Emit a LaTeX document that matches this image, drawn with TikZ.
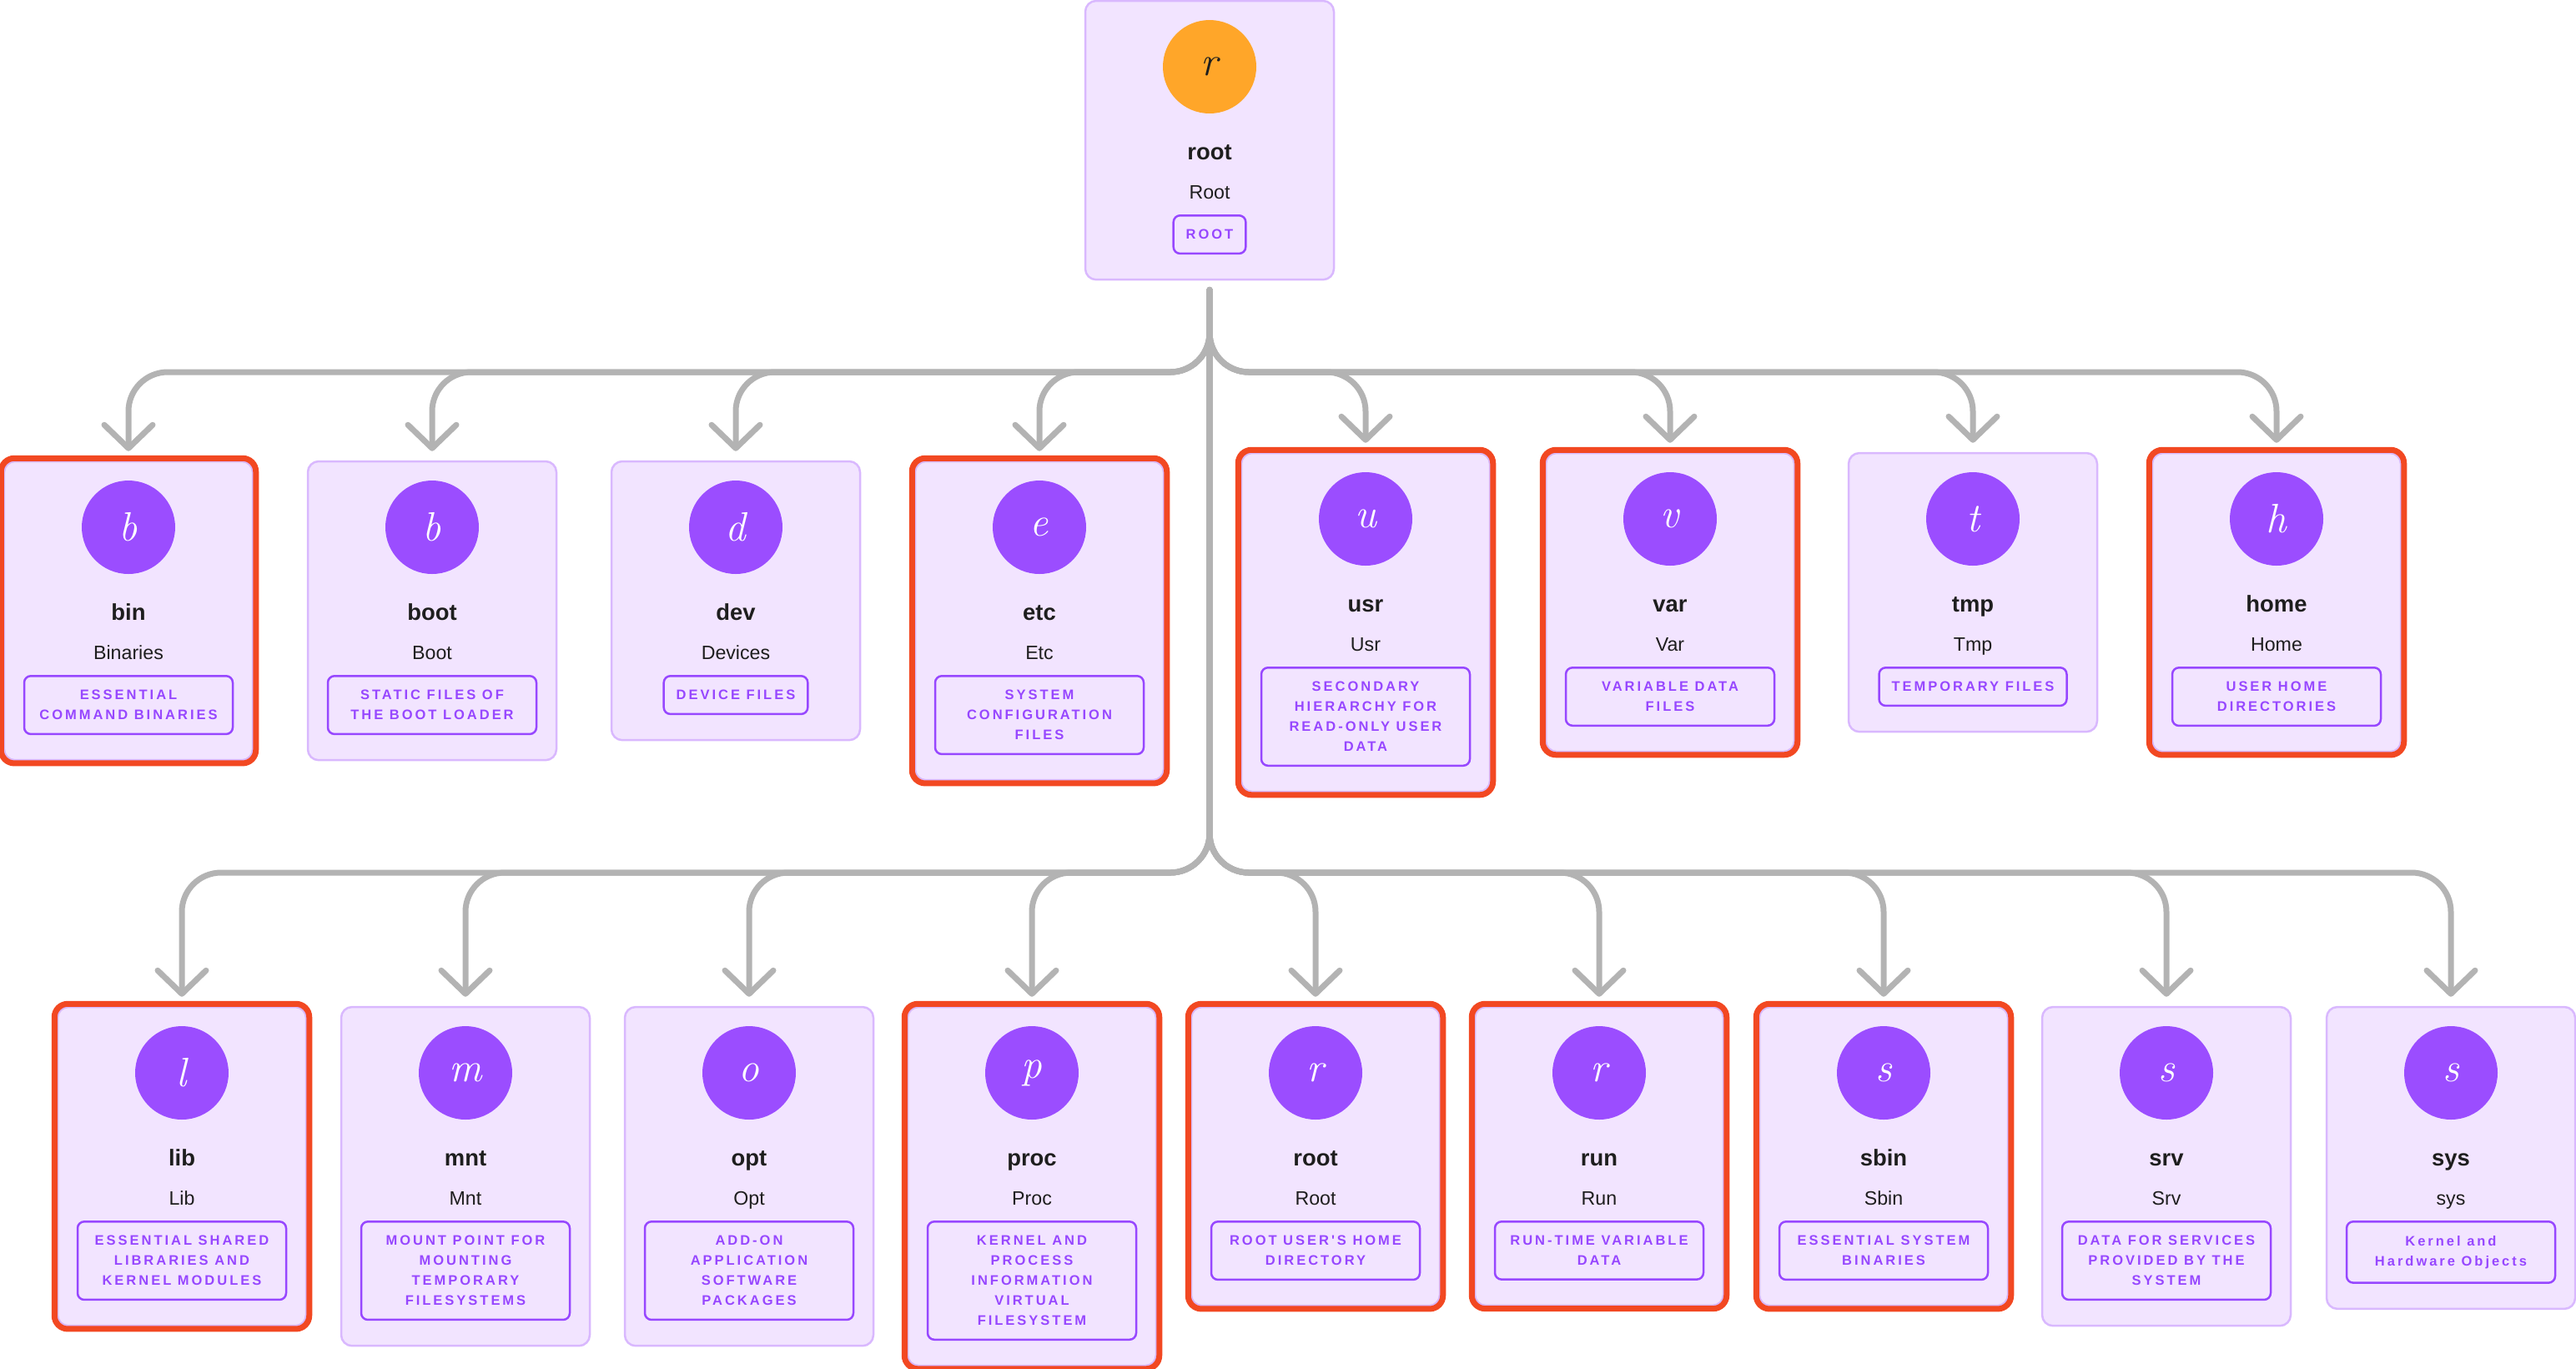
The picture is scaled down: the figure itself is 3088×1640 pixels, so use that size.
\documentclass[tikz,border=0pt]{standalone}
\usepackage{fontspec}
\setsansfont{Liberation Sans}
\newfontfamily\tagfont[LetterSpace=18]{Liberation Sans}
\usepackage{tikz}
\usetikzlibrary{arrows.meta,positioning,fit,backgrounds,calc}

\definecolor{cardfill}{HTML}{F2E4FF}
\definecolor{cardline}{HTML}{D9B8FE}
\definecolor{badgepurple}{HTML}{9B4DFF}
\definecolor{tagpurple}{HTML}{9747FF}
\definecolor{rootorange}{HTML}{FFA629}
\definecolor{hired}{HTML}{F24822}
\definecolor{wiregray}{HTML}{B3B3B3}
\definecolor{inkdark}{HTML}{1E1E1E}

\tikzset{
  card/.style={draw=cardline,fill=cardfill,line width=0.25mm,rounded corners=1.3mm,inner sep=0pt},
  hilite/.style={draw=hired,line width=0.7mm,rounded corners=1.6mm,inner sep=0.25mm},
  badge/.style={circle,fill=badgepurple,text=white,minimum size=11.2mm,inner sep=0pt,font=\rmfamily\itshape\fontsize{14pt}{14pt}\selectfont},
  ftitle/.style={anchor=base,inner sep=0pt,text=inkdark,font=\sffamily\bfseries\fontsize{7.8pt}{9pt}\selectfont},
  fsub/.style={anchor=base,inner sep=0pt,text=inkdark,font=\sffamily\fontsize{6.6pt}{8pt}\selectfont},
  ftag/.style={anchor=north,draw=tagpurple,line width=0.25mm,rounded corners=0.8mm,minimum width=25mm,inner xsep=1.5mm,inner ysep=1.7mm,align=center,text=tagpurple,font=\tagfont\bfseries\fontsize{4.7pt}{6.83pt}\selectfont},
  slim/.style={minimum width=0pt},
  conn/.style={draw=wiregray,line width=0.7mm,line cap=round,rounded corners=4.7mm,shorten <=1.1mm,shorten >=1.1mm,-{Straight Barb[length=2.8mm,width=5.8mm,round]}}
}

% #1 extra tag keys, #2 name, #3 x, #4 top y, #5 letter, #6 title, #7 subtitle, #8 tag
\newcommand{\fsnode}[8][]{%
  \node[badge] (#2-badge) at (#3,-#4-79) {#5};
  \node[ftitle] (#2-title) at (#3,-#4-190) {#6};
  \node[fsub] (#2-sub) at (#3,-#4-237) {#7};
  \node[ftag,#1] (#2-tag) at (#3,-#4-256) {#8};
  \coordinate (#2-tl) at (#3-149,-#4);
  \coordinate (#2-br) at ($(#2-tag.south)+(149,-30)$);
  \begin{scope}[on background layer]
    \node[card,fit=(#2-tl)(#2-br)] (#2) {};
  \end{scope}
}

\begin{document}
\begin{tikzpicture}[x=0.1mm,y=0.1mm]
  \useasboundingbox (0,0) rectangle (3088,-1640);
  % root of the tree
  \begin{scope}[badge/.append style={fill=rootorange,text=inkdark}]
    \fsnode[slim]{root}{1450}{1}{r}{root}{Root}{ROOT}
  \end{scope}
  % first level
  \fsnode{bin}{154}{553}{b}{bin}{Binaries}{ESSENTIAL\\COMMAND BINARIES}
  \fsnode{boot}{518}{553}{b}{boot}{Boot}{STATIC FILES OF\\THE BOOT LOADER}
  \fsnode[slim]{dev}{882}{553}{d}{dev}{Devices}{DEVICE FILES}
  \fsnode{etc}{1246}{553}{e}{etc}{Etc}{SYSTEM\\CONFIGURATION\\FILES}
  \fsnode{usr}{1637}{543}{u}{usr}{Usr}{SECONDARY\\HIERARCHY FOR\\READ-ONLY USER\\DATA}
  \fsnode{var}{2002}{543}{v}{var}{Var}{VARIABLE DATA\\FILES}
  \fsnode[slim]{tmp}{2365}{543}{t}{tmp}{Tmp}{TEMPORARY FILES}
  \fsnode{home}{2729}{543}{h}{home}{Home}{USER HOME\\DIRECTORIES}
  % second level
  \fsnode{lib}{218}{1207}{l}{lib}{Lib}{ESSENTIAL SHARED\\LIBRARIES AND\\KERNEL MODULES}
  \fsnode{mnt}{558}{1207}{m}{mnt}{Mnt}{MOUNT POINT FOR\\MOUNTING\\TEMPORARY\\FILESYSTEMS}
  \fsnode{opt}{898}{1207}{o}{opt}{Opt}{ADD-ON\\APPLICATION\\SOFTWARE\\PACKAGES}
  \fsnode{proc}{1237}{1207}{p}{proc}{Proc}{KERNEL AND\\PROCESS\\INFORMATION\\VIRTUAL\\FILESYSTEM}
  \fsnode{roothome}{1577}{1207}{r}{root}{Root}{ROOT USER'S HOME\\DIRECTORY}
  \fsnode{run}{1917}{1207}{r}{run}{Run}{RUN-TIME VARIABLE\\DATA}
  \fsnode{sbin}{2258}{1207}{s}{sbin}{Sbin}{ESSENTIAL SYSTEM\\BINARIES}
  \fsnode{srv}{2597}{1207}{s}{srv}{Srv}{DATA FOR SERVICES\\PROVIDED BY THE\\SYSTEM}
  \fsnode{sys}{2938}{1207}{s}{sys}{sys}{Kernel and\\Hardware Objects}
  % red frames
  \foreach \n in {bin,etc,usr,var,home,lib,proc,roothome,run,sbin}
    \node[hilite,fit=(\n)] {};
  % connectors
  \coordinate (splitA) at (1450,-446);
  \coordinate (splitB) at (1450,-1046);
  \foreach \n in {bin,boot,dev,etc,usr,var,tmp,home}
    \draw[conn] (root) -- (splitA) -| (\n);
  \foreach \n in {lib,mnt,opt,proc,roothome,run,sbin,srv,sys}
    \draw[conn] (root) -- (splitB) -| (\n);
\end{tikzpicture}
\end{document}
